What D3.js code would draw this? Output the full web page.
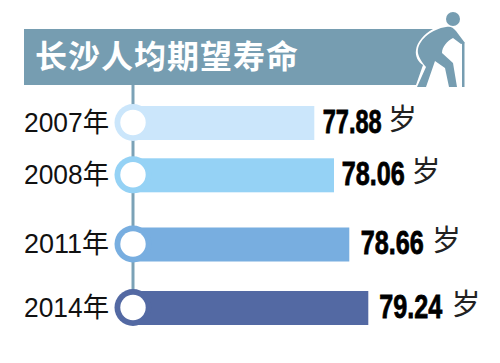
<!DOCTYPE html>
<html>
<head>
<meta charset="utf-8">
<script src="https://cdn.jsdelivr.net/npm/d3@7"></script>
<style>
  html, body { margin: 0; padding: 0; background: #fff; }
  svg { display: block; }
  text { font-family: "Liberation Sans", "Noto Sans CJK SC", sans-serif; }
</style>
</head>
<body>
<div id="chart"></div>
<script>
const title = '长沙人均期望寿命';
const years = ['2007年', '2008年', '2011年', '2014年'];
const ages = [77.88, 78.06, 78.66, 79.24];
const unit = '岁';
const barColors = ['#cbe6fb', '#95d2f5', '#78aee0', '#5369a3'];

const width = 500, height = 363;
const axisX = 133;

const svg = d3.select('#chart').append('svg')
    .attr('width', width)
    .attr('height', height);

// the original is not drawn to scale, so these scales are piecewise
const x = d3.scaleLinear().domain(ages).range([314.3, 334, 349.3, 368.3]);
const y = d3.scaleOrdinal().domain(years).range([123, 175.3, 244.5, 308]);
const color = d3.scaleOrdinal().domain(years).range(barColors);
const valueX = d3.scaleOrdinal().domain(years).range([322.7, 341.7, 360.7, 379.3]);
const valueW = d3.scaleOrdinal().domain(years).range([59, 63, 63, 63]);
const unitX = d3.scaleOrdinal().domain(years).range([388, 411.5, 432, 451.5]);
const barH = 34;

// --- header band, right edge follows the figure's back ---
svg.append('path')
    .attr('d', 'M24,29 H433 C424,34 417,42 416,50 C415,56 418,62 423,65 L416,85 H24 Z')
    .attr('fill', '#769db1');

svg.append('text')
    .attr('x', 35).attr('y', 68)
    .attr('fill', '#fff')
    .style('font-size', '32px').style('font-weight', 'bold')
    .style('letter-spacing', '1px')
    .text(title);

// --- old man icon ---
const icon = svg.append('g').attr('fill', '#769db1');
icon.append('circle').attr('cx', 453).attr('cy', 19).attr('r', 7);
icon.append('path')
    .attr('d', 'M446,27 C450,26 453,27 456,31 L465,43 L461,44 L453,38 C447,41 442,47 442,53 L453,63 L457,87 L449,87 L445,68 L435,61 L426,87 L417,87 L426,67 C420,60 417,54 418,49 C420,39 432,29 446,27 Z');
icon.append('rect').attr('x', 462).attr('y', 43).attr('width', 2.5).attr('height', 44);

// --- vertical connector ---
svg.append('line')
    .attr('x1', axisX).attr('x2', axisX)
    .attr('y1', 85).attr('y2', d3.max(years, d => y(d)))
    .attr('stroke', '#7ba2b7').attr('stroke-width', 3);

// --- year labels ---
const yearAxis = svg.append('g')
    .attr('transform', 'translate(24,0)')
    .call(d3.axisLeft(y).tickSize(0).tickPadding(0));
yearAxis.select('.domain').remove();
yearAxis.selectAll('text')
    .attr('x', 0)
    .attr('text-anchor', 'start')
    .attr('fill', '#111')
    .attr('dy', '0.3em')
    .attr('textLength', 85)
    .attr('lengthAdjust', 'spacingAndGlyphs')
    .style('font-size', '27px');

// --- bars ---
const rows = svg.selectAll('.row')
    .data(years.map((year, i) => ({ year, age: ages[i] })))
    .enter().append('g').attr('class', 'row');

rows.append('rect')
    .attr('x', axisX)
    .attr('y', d => y(d.year) - barH / 2)
    .attr('width', d => x(d.age) - axisX)
    .attr('height', barH)
    .attr('fill', d => color(d.year));

rows.append('circle')
    .attr('cx', axisX)
    .attr('cy', d => y(d.year) - 0.5)
    .attr('r', 18.5)
    .attr('fill', d => color(d.year));

rows.append('circle')
    .attr('cx', axisX)
    .attr('cy', d => y(d.year) - 0.5)
    .attr('r', 12.7)
    .attr('fill', '#fff');

// --- value labels, squeezed to look like the condensed original face ---
rows.append('text')
    .attr('fill', '#000')
    .attr('stroke', '#000').attr('stroke-width', 0.8)
    .style('font-size', '34px').style('font-weight', 'bold')
    .text(d => d.age.toFixed(2))
    .attr('transform', function(d) {
        const sx = valueW(d.year) / this.getComputedTextLength();
        return `translate(${valueX(d.year)},${y(d.year) + 9.5}) scale(${sx},1)`;
    });

rows.append('text')
    .attr('x', d => unitX(d.year))
    .attr('y', d => y(d.year) + 6.5)
    .attr('fill', '#222')
    .style('font-family', '"Noto Sans CJK SC", sans-serif')
    .style('font-size', '29px')
    .text(unit);
</script>
</body>
</html>
